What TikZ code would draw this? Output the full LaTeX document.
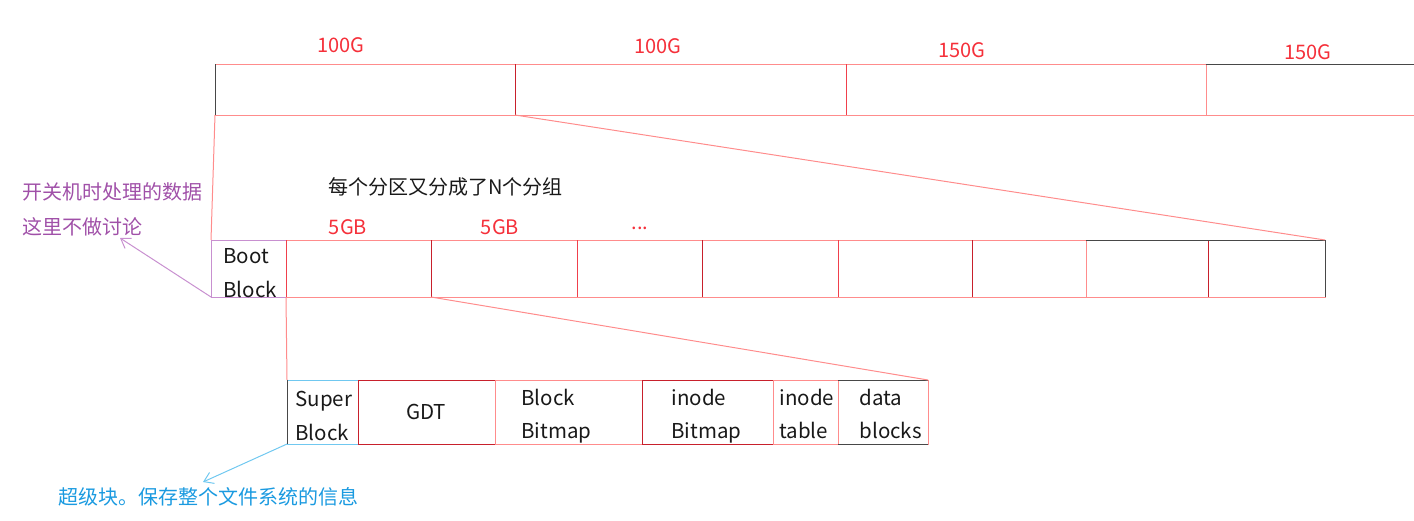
\documentclass[tikz,border=0pt]{standalone}
\usepackage{fontspec}
\setmainfont{Noto Sans CJK SC}
\usetikzlibrary{arrows.meta}
\definecolor{lred}{HTML}{FF8C8C}
\definecolor{mred}{HTML}{F0404C}
\definecolor{dred}{HTML}{C8202C}
\definecolor{txtred}{HTML}{F5303A}
\definecolor{purp}{HTML}{A050A8}
\definecolor{lpurp}{HTML}{C890D0}
\definecolor{blu}{HTML}{1A9AE0}
\definecolor{lblu}{HTML}{70C8F0}
\definecolor{dgray}{HTML}{484848}
\begin{document}
\begin{tikzpicture}[x=1pt,y=-1pt,line width=1pt,
  cell/.style={draw=lred,rectangle,inner sep=0pt,outer sep=0pt,anchor=north west},
  celltext/.style={inner sep=0pt,font=\fontsize{20.5}{33.5}\selectfont,align=left,text=black!90},
  redlbl/.style={text=txtred,font=\fontsize{20}{22}\selectfont,inner sep=0pt},
  note/.style={font=\fontsize{20}{22}\selectfont,inner sep=0pt,anchor=west},
  divline/.style={draw=mred},
  darkline/.style={draw=dred},
  zoomline/.style={draw=lred},
  parrow/.style={draw=lpurp,-{Straight Barb[length=9pt,width=12pt]}},
  barrow/.style={draw=lblu,-{Straight Barb[length=9pt,width=12pt]}}]
\useasboundingbox (0,0) rectangle (1414,520);

% top row: partitions
\node[cell,minimum width=300pt,minimum height=51pt] (t1) at (215,64) {};
\node[cell,minimum width=331pt,minimum height=51pt] (t2) at (515,64) {};
\node[cell,minimum width=360pt,minimum height=51pt] (t3) at (846,64) {};
\node[cell,minimum width=212pt,minimum height=51pt] (t4) at (1206,64) {};
\draw[dgray] (t1.north west) -- (t1.south west);
\draw[darkline] (t2.north west) -- (t2.south west);
\draw[divline] (t3.north west) -- (t3.south west);
\draw[dgray] (t4.north west) -- (t4.north east);

\node[redlbl] (l1) at (341,45) {100G};
\node[redlbl] (l2) at (658,46) {100G};
\node[redlbl] (l3) at (962,50) {150G};
\node[redlbl] (l4) at (1308,52) {150G};

% middle row: block groups
\node[cell,draw=lpurp,minimum width=75pt,minimum height=57pt] (boot) at (211,240) {};
\node[cell,minimum width=145pt,minimum height=57pt] (m1) at (286,240) {};
\node[cell,minimum width=146pt,minimum height=57pt] (m2) at (431,240) {};
\node[cell,minimum width=125pt,minimum height=57pt] (m3) at (577,240) {};
\node[cell,minimum width=136pt,minimum height=57pt] (m4) at (702,240) {};
\node[cell,minimum width=134pt,minimum height=57pt] (m5) at (838,240) {};
\node[cell,minimum width=114pt,minimum height=57pt] (m6) at (972,240) {};
\node[cell,minimum width=122pt,minimum height=57pt] (m7) at (1086,240) {};
\node[cell,minimum width=117pt,minimum height=57pt] (m8) at (1208,240) {};
\draw[divline] (m1.north west) -- (m1.south west);
\draw[darkline] (m2.north west) -- (m2.south west);
\draw[divline] (m3.north west) -- (m3.south west);
\draw[darkline] (m4.north west) -- (m4.south west);
\draw[divline] (m5.north west) -- (m5.south west);
\draw[darkline] (m6.north west) -- (m6.south west);
\draw[darkline] (m8.north west) -- (m8.south west);
\draw[dgray] (m7.north west) -- (m8.north east) -- (m8.south east);
\node[celltext,anchor=west] (bootT) at (223,273) {Boot\\Block};

\node[note,text=black!90] (grp) at (328,187) {每个分区又分成了N个分组};
\node[redlbl] (g1) at (348,227) {5GB};
\node[redlbl] (g2) at (500,227) {5GB};
\node[redlbl] (g3) at (640,228) {...};

% bottom row: group layout
\node[cell,draw=lblu,minimum width=71pt,minimum height=64pt] (sb) at (287,380) {};
\node[cell,draw=dred,minimum width=137pt,minimum height=64pt] (gdt) at (358,380) {};
\node[cell,minimum width=147pt,minimum height=64pt] (bbm) at (495,380) {};
\node[cell,draw=dred,minimum width=131pt,minimum height=64pt] (ibm) at (642,380) {};
\node[cell,minimum width=65pt,minimum height=64pt] (itb) at (773,380) {};
\node[cell,minimum width=90pt,minimum height=64pt] (db) at (838,380) {};
\draw[dgray] (sb.north west) -- (sb.south west);
\draw[dgray] (db.north west) -- (db.north east);
\draw[dgray] (db.south west) -- (db.south east);

\node[celltext,anchor=west] (sbT) at (295,416) {Super\\Block};
\node[celltext] (gdtT) at (426,412) {GDT};
\node[celltext,anchor=west] (bbmT) at (521,416) {Block\\Bitmap};
\node[celltext,anchor=west] (ibmT) at (671,416) {inode\\Bitmap};
\node[celltext,anchor=west] (itbT) at (779,414) {inode\\table};
\node[celltext,anchor=west] (dbT) at (859,414) {data\\blocks};

% zoom lines
\draw[zoomline] (t1.south west) -- (boot.north west);
\draw[zoomline] (t2.south west) -- (m8.north east);
\draw[zoomline] (m1.south west) -- (sb.north west);
\draw[zoomline] (m2.south west) -- (db.north east);

% annotations
\node[note,text=purp] (pn1) at (22,192) {开关机时处理的数据};
\node[note,text=purp] (pn2) at (22,227) {这里不做讨论};
\coordinate (pa) at (120,238);
\draw[parrow] (boot.south west) -- (pa);

\node[note,text=blu] (bn) at (58,497) {超级块。保存整个文件系统的信息};
\coordinate (ba) at (203,482);
\draw[barrow] (sb.south west) -- (ba);
\end{tikzpicture}
\end{document}
